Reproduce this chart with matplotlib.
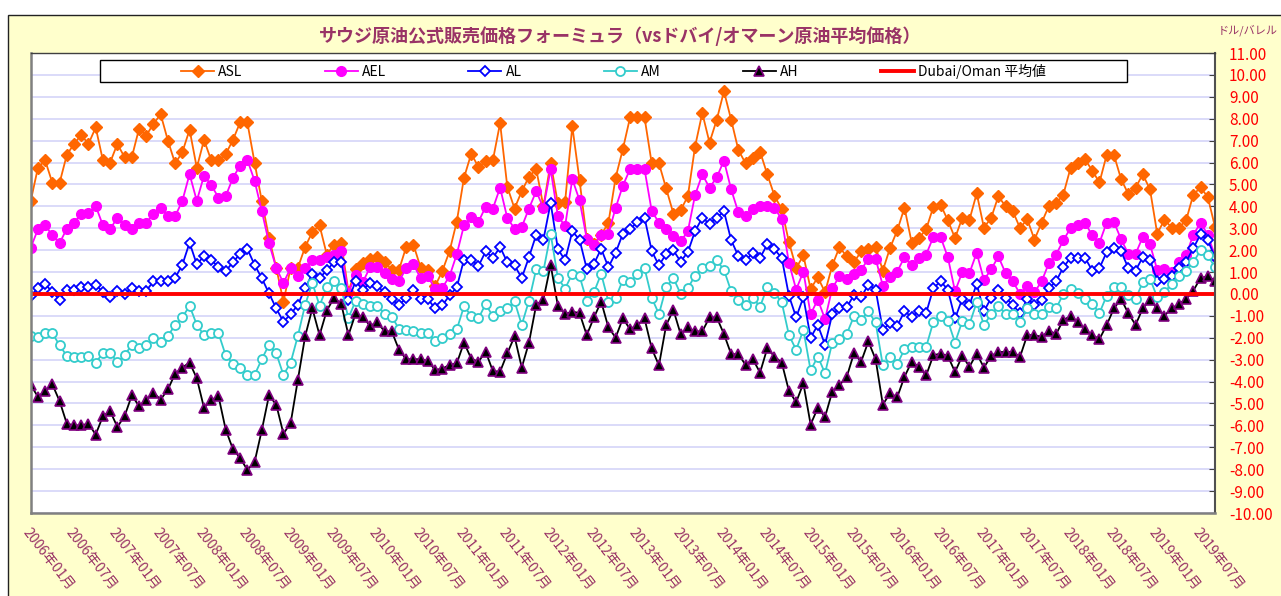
import numpy as np
import matplotlib.pyplot as plt
from matplotlib.patches import Rectangle

plt.rcParams['font.family'] = ['Noto Sans CJK JP', 'DejaVu Sans']

# monthly values, 2006-01 .. 2019-09 (USD/bbl vs Dubai/Oman average)
tick_labels = [
    "2006年01月", "2006年07月", "2007年01月", "2007年07月", "2008年01月", "2008年07月",
    "2009年01月", "2009年07月", "2010年01月", "2010年07月", "2011年01月", "2011年07月",
    "2012年01月", "2012年07月", "2013年01月", "2013年07月", "2014年01月", "2014年07月",
    "2015年01月", "2015年07月", "2016年01月", "2016年07月", "2017年01月", "2017年07月",
    "2018年01月", "2018年07月", "2019年01月", "2019年07月",
]

asl = [
    4.24, 5.76, 6.10, 5.07, 5.07, 6.35, 6.85, 7.26, 6.85, 7.60,
    6.10, 6.00, 6.85, 6.24, 6.24, 7.54, 7.23, 7.77, 8.20, 7.00,
    5.96, 6.47, 7.50, 5.76, 7.03, 6.10, 6.10, 6.38, 7.03, 7.83,
    7.83, 6.00, 4.25, 2.57, 1.20, -0.35, 1.20, 1.20, 2.14, 2.83,
    3.13, 1.80, 2.25, 2.34, 0.10, 1.15, 1.40, 1.60, 1.70, 1.45,
    1.10, 1.10, 2.15, 2.25, 1.20, 1.10, 0.35, 1.05, 1.95, 3.30,
    5.30, 6.40, 5.80, 6.05, 6.10, 7.80, 4.89, 3.90, 4.69, 5.35,
    5.70, 4.00, 6.00, 4.13, 4.20, 7.65, 5.20, 2.52, 2.29, 2.70,
    3.25, 5.31, 6.61, 8.06, 8.06, 8.06, 5.96, 5.96, 4.82, 3.67,
    3.82, 4.46, 6.73, 8.26, 6.91, 7.95, 9.25, 7.95, 6.57, 5.96,
    6.19, 6.50, 5.46, 4.48, 3.87, 2.37, 1.18, 1.76, 0.23, 0.76,
    0.08, 1.30, 2.14, 1.71, 1.45, 1.94, 2.03, 2.14, 1.07, 2.10,
    2.90, 3.94, 2.34, 2.55, 2.95, 3.98, 4.08, 3.36, 2.55, 3.47,
    3.39, 4.59, 3.03, 3.47, 4.46, 4.00, 3.78, 3.01, 3.41, 2.48,
    3.26, 4.02, 4.13, 4.54, 5.76, 5.96, 6.15, 5.63, 5.09, 6.35,
    6.35, 5.24, 4.56, 4.85, 5.46, 4.77, 2.75, 3.39, 3.03, 3.03,
    3.36, 4.54, 4.86, 4.43, 3.06,
]

ael = [
    2.11, 2.95, 3.13, 2.68, 2.32, 2.98, 3.24, 3.67, 3.70, 4.02,
    3.13, 2.95, 3.49, 3.13, 2.98, 3.24, 3.24, 3.67, 3.93, 3.55,
    3.55, 4.25, 5.47, 4.25, 5.40, 4.97, 4.40, 4.46, 5.30, 5.86,
    6.12, 5.17, 3.79, 2.32, 1.19, 0.50, 1.19, 0.81, 1.19, 1.53,
    1.53, 1.68, 1.80, 1.94, 0.05, 0.85, 0.55, 1.22, 1.22, 0.95,
    0.70, 0.57, 1.18, 1.35, 0.72, 0.80, 0.23, 0.28, 0.81, 1.81,
    3.13, 3.52, 3.29, 3.98, 3.90, 4.85, 3.47, 2.98, 3.06, 3.90,
    4.69, 3.93, 5.69, 3.56, 3.10, 5.24, 4.28, 2.52, 2.22, 2.70,
    2.75, 3.93, 4.94, 5.70, 5.70, 5.70, 3.78, 3.26, 2.95, 2.63,
    2.40, 2.86, 4.51, 5.46, 4.85, 5.32, 6.09, 4.77, 3.72, 3.55,
    3.90, 4.02, 4.02, 3.93, 3.41, 1.42, 0.20, 1.02, -0.92, -0.26,
    -1.15, 0.26, 0.81, 0.69, 0.89, 1.10, 1.61, 1.61, 0.38, 0.77,
    1.02, 1.68, 1.30, 1.64, 1.80, 2.60, 2.60, 1.68, 0.12, 0.99,
    0.96, 1.88, 0.64, 1.12, 1.71, 0.95, 0.58, 0.00, 0.38, 0.08,
    0.58, 1.41, 1.80, 2.45, 3.01, 3.13, 3.24, 2.68, 2.34, 3.26,
    3.29, 2.49, 1.83, 1.83, 2.60, 2.26, 1.10, 1.15, 0.99, 1.48,
    1.76, 2.71, 3.24, 2.71, 1.73,
]

al = [
    -0.10, 0.28, 0.46, 0.08, -0.26, 0.20, 0.20, 0.30, 0.30, 0.43,
    0.08, -0.15, 0.15, 0.00, 0.26, 0.15, 0.15, 0.57, 0.57, 0.57,
    0.73, 1.33, 2.34, 1.35, 1.73, 1.56, 1.22, 1.04, 1.45, 1.83,
    2.06, 1.33, 0.72, 0.03, -0.66, -1.27, -0.92, -0.50, 0.26, 0.92,
    0.73, 1.08, 1.45, 1.48, -0.26, 0.58, 0.18, 0.50, 0.35, 0.08,
    -0.25, -0.50, -0.20, 0.20, -0.23, -0.23, -0.66, -0.52, -0.07, 0.30,
    1.57, 1.57, 1.27, 1.94, 1.65, 2.14, 1.45, 1.30, 0.73, 1.68,
    2.70, 2.48, 4.16, 2.06, 1.53, 2.86, 2.48, 1.15, 1.38, 2.06,
    1.22, 1.88, 2.75, 2.95, 3.29, 3.49, 1.96, 1.30, 1.83, 1.99,
    1.48, 1.91, 2.87, 3.47, 3.21, 3.47, 3.78, 2.45, 1.73, 1.53,
    1.88, 1.65, 2.26, 2.03, 1.65, -0.08, -1.07, -0.15, -1.99, -1.42,
    -2.32, -0.92, -0.66, -0.61, -0.05, -0.15, 0.43, 0.20, -1.64, -1.32,
    -1.45, -0.80, -1.04, -0.80, -0.87, 0.26, 0.58, 0.20, -1.12, -0.23,
    -0.50, 0.46, -0.80, -0.18, 0.18, -0.18, -0.50, -0.89, -0.23, -0.49,
    -0.26, 0.26, 0.58, 1.22, 1.65, 1.65, 1.65, 1.07, 1.18, 1.91,
    2.09, 1.94, 1.18, 1.07, 1.68, 1.57, 0.58, 0.69, 0.84, 1.19,
    1.48, 2.09, 2.72, 2.45, 1.68,
]

am = [
    -1.91, -1.96, -1.79, -1.80, -2.34, -2.83, -2.86, -2.86, -2.83, -3.13,
    -2.71, -2.71, -3.10, -2.80, -2.32, -2.49, -2.32, -2.02, -2.19, -1.91,
    -1.42, -1.07, -0.54, -1.41, -1.88, -1.80, -1.79, -2.80, -3.18, -3.36,
    -3.70, -3.70, -2.98, -2.32, -2.71, -3.70, -3.13, -1.91, -0.50, 0.50,
    -0.53, 0.30, 0.61, 0.25, -1.10, -0.31, -0.48, -0.56, -0.53, -0.90,
    -1.03, -1.60, -1.65, -1.68, -1.78, -1.78, -2.16, -2.03, -1.82, -1.62,
    -0.57, -0.99, -1.12, -0.46, -1.02, -0.80, -0.66, -0.34, -1.41, -0.31,
    1.13, 1.05, 2.75, 0.74, 0.24, 0.92, 0.82, -0.32, 0.08, 0.92,
    -0.35, -0.18, 0.64, 0.54, 0.92, 1.18, -0.18, -0.92, 0.31, 0.73,
    0.00, 0.26, 0.84, 1.18, 1.27, 1.53, 1.10, 0.12, -0.26, -0.50,
    -0.18, -0.58, 0.31, 0.05, -0.38, -1.88, -2.55, -1.64, -3.49, -2.86,
    -3.62, -2.22, -2.06, -1.83, -1.02, -1.18, -0.80, -1.30, -3.26, -2.90,
    -3.21, -2.52, -2.42, -2.42, -2.42, -1.27, -1.02, -1.22, -2.22, -1.25,
    -1.38, -0.38, -1.42, -0.92, -0.54, -0.92, -0.92, -1.30, -0.66, -0.92,
    -0.92, -0.58, -0.66, 0.00, 0.23, 0.03, -0.23, -0.46, -0.87, -0.08,
    0.31, 0.31, -0.05, -0.23, 0.54, 0.69, -0.15, 0.08, 0.46, 0.84,
    1.07, 1.45, 1.99, 1.76, 1.22,
]

ah = [
    -4.16, -4.69, -4.43, -4.13, -4.89, -5.92, -6.00, -6.00, -5.92, -6.42,
    -5.58, -5.35, -6.07, -5.58, -4.63, -5.12, -4.82, -4.51, -4.82, -4.36,
    -3.64, -3.36, -3.13, -3.85, -5.20, -4.85, -4.66, -6.19, -7.08, -7.49,
    -8.03, -7.68, -6.22, -4.63, -5.05, -6.38, -5.89, -3.93, -1.94, -0.66,
    -1.88, -0.76, -0.18, -0.45, -1.88, -0.89, -1.07, -1.45, -1.30, -1.71,
    -1.71, -2.55, -2.98, -2.98, -2.98, -3.06, -3.47, -3.41, -3.24, -3.17,
    -2.22, -2.95, -3.10, -2.63, -3.52, -3.55, -2.71, -1.94, -3.36, -2.22,
    -0.50, -0.26, 1.33, -0.54, -0.92, -0.81, -0.87, -1.88, -1.07, -0.35,
    -1.53, -1.99, -1.12, -1.61, -1.42, -1.12, -2.49, -3.26, -1.42, -0.73,
    -1.83, -1.53, -1.71, -1.71, -1.07, -1.07, -1.83, -2.75, -2.75, -3.24,
    -2.98, -3.59, -2.48, -2.86, -3.13, -4.43, -4.94, -4.08, -5.96, -5.20,
    -5.61, -4.46, -4.16, -3.79, -2.71, -3.09, -2.17, -2.98, -5.05, -4.54,
    -4.71, -3.78, -3.10, -3.33, -3.72, -2.80, -2.72, -2.83, -3.56, -2.83,
    -3.32, -2.72, -3.36, -2.83, -2.65, -2.65, -2.65, -2.87, -1.88, -1.88,
    -1.96, -1.68, -1.83, -1.18, -1.02, -1.27, -1.61, -1.88, -2.06, -1.42,
    -0.66, -0.23, -0.89, -1.41, -0.66, -0.28, -0.66, -0.99, -0.66, -0.46,
    -0.23, 0.15, 0.73, 0.80, 0.61,
]

# the benchmark itself sits at zero difference
dubai_oman = [0.0] * len(asl)

TEXT_COLOR = "#993366"
W, H = 1281, 596

fig = plt.figure(figsize=(W / 100, H / 100), dpi=100, facecolor="white")

# yellow chart area with its frame (only top/left edges visible in the picture)
fig.add_artist(Rectangle((8 / W, -0.02), 1.0, (H - 15) / H + 0.02,
                         transform=fig.transFigure, facecolor="#FFFFCC",
                         edgecolor="#222222", lw=1.0, zorder=-1))

ax = fig.add_axes([30.7 / W, 1 - 513 / H, (1215 - 30.7) / W, (513 - 53) / H])
ax.set_facecolor("white")

ax.plot(np.arange(len(asl)), asl, color="#FF6600", lw=1.3, marker="D", ms=6,
        label="ASL")
ax.plot(np.arange(len(ael)), ael, color="#FF00FF", lw=1.3, marker="o", ms=7,
        label="AEL")
ax.plot(np.arange(len(al)), al, color="#0000FF", lw=1.3, marker="D", ms=5.5,
        mfc="white", mew=1.3, label="AL")
ax.plot(np.arange(len(am)), am, color="#33CCCC", lw=1.3, marker="o", ms=6.5,
        mfc="white", mew=1.3, label="AM")
ax.plot(np.arange(len(ah)), ah, color="black", lw=1.3, marker="^", ms=7,
        mfc="black", mec="#800080", mew=1.2, label="AH")
ax.plot(np.arange(len(dubai_oman)), dubai_oman, color="#FF0000", lw=2.8,
        label="Dubai/Oman 平均値")

ax.set_xlim(0, len(asl) - 1)
ax.set_ylim(-10, 11)

# y axis on the right, red labels
yticks = np.arange(-10, 12)
ax.yaxis.tick_right()
ax.set_yticks(yticks)
ax.set_yticklabels([f"{v:.2f}" for v in yticks])
ax.tick_params(axis="y", direction="in", length=4, pad=10, color="#404040",
               labelcolor="#FF0000", labelsize=11)
ax.yaxis.grid(True, color="#D4D4F8", lw=1.2)
ax.set_axisbelow(True)

# half-year labels, slanted down to the right
ax.set_xticks(np.arange(0, len(asl), 6)[:len(tick_labels)])
ax.set_xticklabels(tick_labels, rotation=-52, ha="left", va="top",
                   rotation_mode="anchor", color=TEXT_COLOR, fontsize=10)
ax.tick_params(axis="x", length=0, pad=9)

for side in ("left", "bottom"):
    ax.spines[side].set_color("#808080")
    ax.spines[side].set_linewidth(1.8)
ax.spines["right"].set_color("#505050")
ax.spines["right"].set_linewidth(1.5)
ax.spines["top"].set_color("#404040")
ax.spines["top"].set_linewidth(1.0)

fig.text(620 / W, 1 - 36 / H,
         "サウジ原油公式販売価格フォーミュラ（vsドバイ/オマーン原油平均価格）",
         ha="center", va="center", fontsize=13, fontweight="bold",
         color=TEXT_COLOR)
fig.text(1248 / W, 1 - 30 / H, "ドル/バレル", ha="center", va="center",
         fontsize=8, color=TEXT_COLOR)

# legend box sits over the top of the plot area
fig.add_artist(Rectangle((100 / W, 1 - 82 / H), 1027 / W, 22 / H,
                         transform=fig.transFigure, facecolor="white",
                         edgecolor="black", lw=1.0, zorder=4))
handles, labels = ax.get_legend_handles_labels()
leg = fig.legend(handles, labels, loc="center",
                 bbox_to_anchor=(613.5 / W, 1 - 71 / H), ncol=6,
                 frameon=False, fontsize=10, handlelength=2.4,
                 handletextpad=0.3, columnspacing=5.9)
leg.set_zorder(5)

fig.savefig("out.png", dpi=100, facecolor=fig.get_facecolor())
